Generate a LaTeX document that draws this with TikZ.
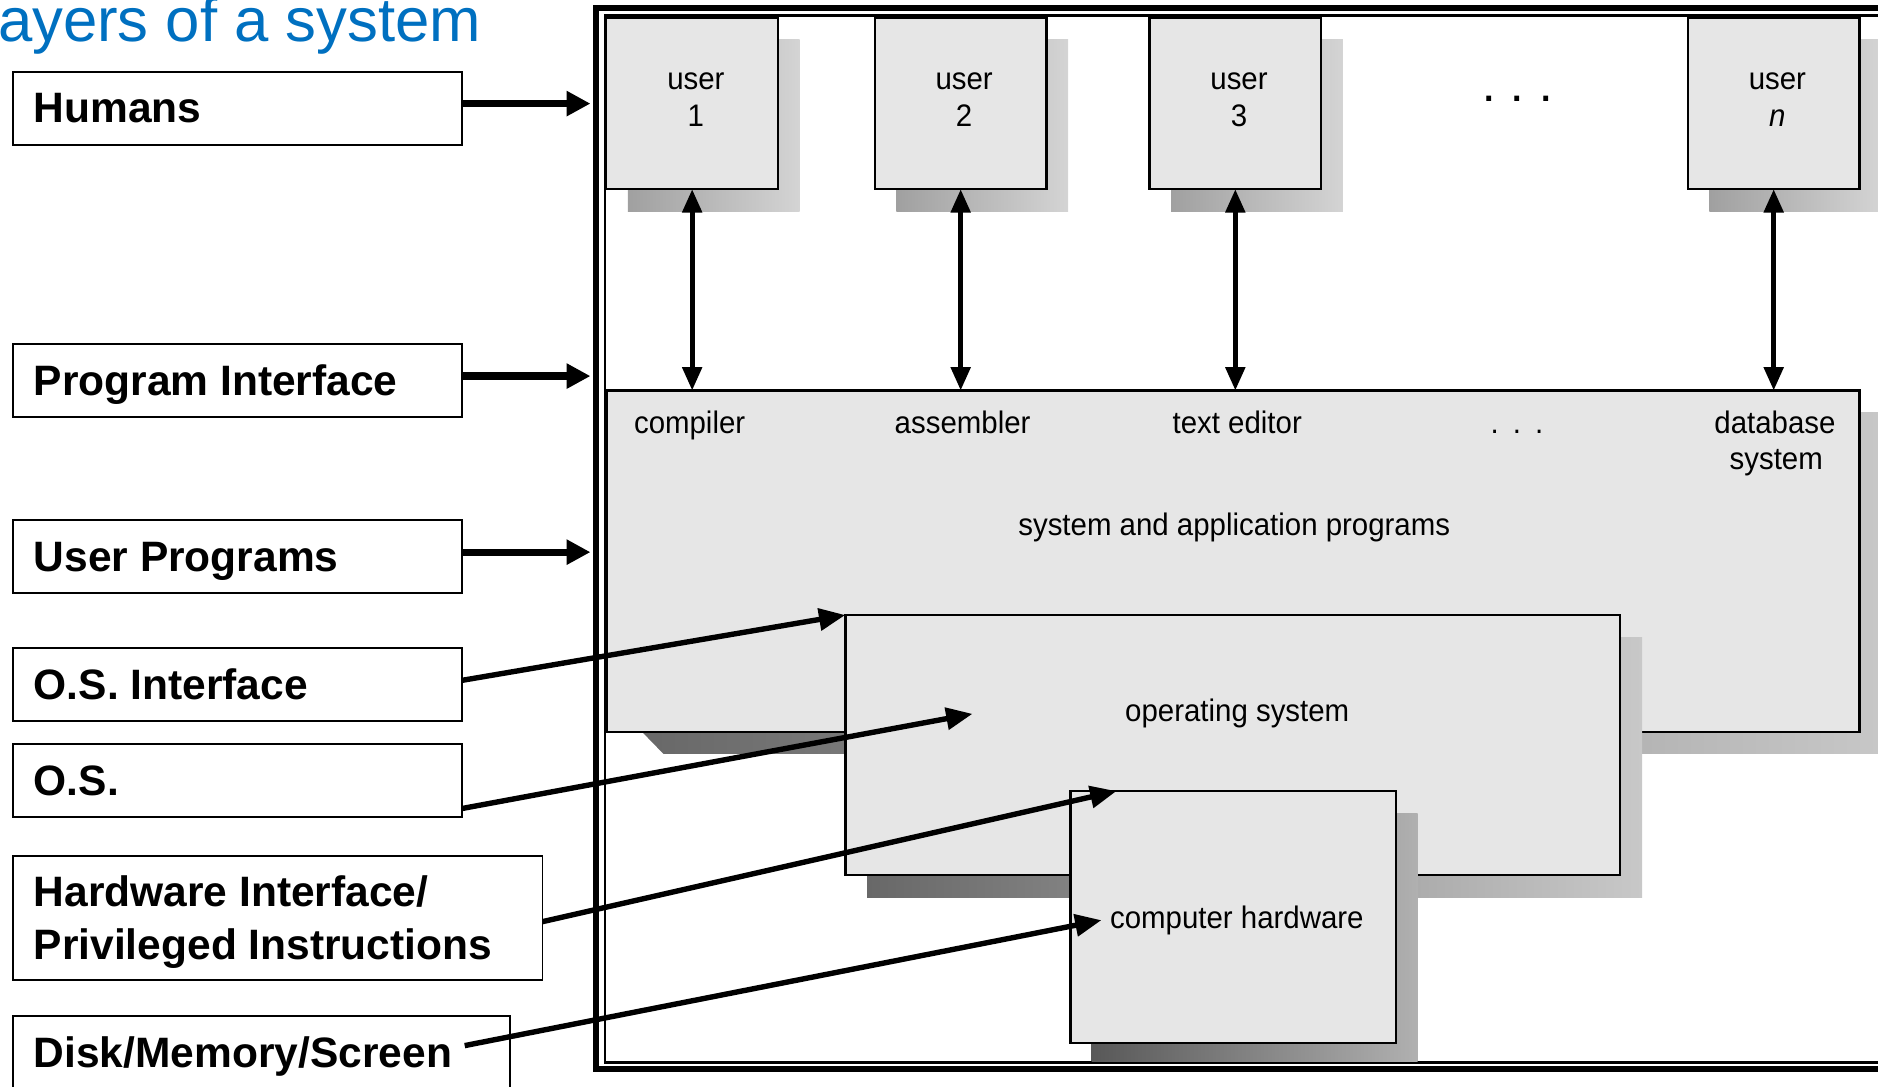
\documentclass[tikz,border=0pt]{standalone}
\usepackage{fontspec}
\setmainfont{Liberation Sans}
\newfontfamily\figfont[FakeStretch=0.945]{Liberation Sans}
\usetikzlibrary{arrows.meta,calc}
\definecolor{boxfill}{RGB}{230,230,230}
\definecolor{titleblue}{RGB}{0,112,192}
\definecolor{shUa}{RGB}{160,160,160}
\definecolor{shUb}{RGB}{212,212,212}
\definecolor{shBa}{RGB}{104,104,104}
\definecolor{shBb}{RGB}{200,200,200}
\definecolor{shHa}{RGB}{88,88,88}
\definecolor{shHb}{RGB}{176,176,176}
\tikzset{
  lblbox/.style={draw, line width=1.5pt, fill=white, inner sep=0pt, outer sep=0pt},
  lbltxt/.style={anchor=base west, inner sep=0pt, font=\fontsize{35.5}{42}\selectfont\bfseries},
  figbox/.style={draw, line width=2pt, fill=boxfill, inner sep=0pt, outer sep=0pt},
  figtxt/.style={anchor=base, inner sep=0pt, font=\figfont\fontsize{26}{31}\selectfont},
  harrow/.style={line width=6pt, -{Triangle[length=20pt,width=20pt]}},
  varrow/.style={line width=4pt, {Triangle[length=19.5pt,width=16pt]}-{Triangle[length=19.5pt,width=16pt]}},
  darrow/.style={line width=4.5pt, -{Triangle[length=22pt,width=18pt]}},
}
\begin{document}
\begin{tikzpicture}[x=1pt,y=-1pt]
\useasboundingbox (0,0) rectangle (1568,907);
\clip (0,0) rectangle (1568,907);

% title
\node[anchor=base west, inner sep=0pt, text=titleblue, font=\fontsize{51.5}{60}\selectfont] (title) at (-30.5,34.5) {Layers of a system};

% frame
\draw[line width=5pt] (498,7) rectangle (1640,892.5);
\draw[line width=2pt] (505,13) rectangle (1640,887);

% user shadows
\shade[left color=shUa, right color=shUb] (524.2,33) rectangle (667.6,176.5);
\shade[left color=shUa, right color=shUb] (748.4,33) rectangle (891.8,176.5);
\shade[left color=shUa, right color=shUb] (977.7,33) rectangle (1121.1,176.5);
\shade[left color=shUa, right color=shUb] (1427.2,33) rectangle (1570.6,176.5);

% user boxes
\node[figbox, minimum width=143.5pt, minimum height=143.5pt] (u1) at (577.9,86.25) {};
\node[figbox, minimum width=143.5pt, minimum height=143.5pt] (u2) at (802.1,86.25) {};
\node[figbox, minimum width=143.5pt, minimum height=143.5pt] (u3) at (1031.4,86.25) {};
\node[figbox, minimum width=143.5pt, minimum height=143.5pt] (un) at (1480.9,86.25) {};

% programs layer
\shade[left color=shBa, right color=shBb] (536,344) -- (536,611) -- (554,629.5) -- (1580,629.5) -- (1580,344) -- cycle;
\node[figbox, minimum width=1046pt, minimum height=285pt] (apps) at (1029.6,468.5) {};

% operating system layer
\shade[left color=shBa, right color=shBb] (724,532) rectangle (1371,749);
\node[figbox, minimum width=647pt, minimum height=217pt] (osb) at (1029.3,622) {};

% hardware layer
\shade[left color=shHa, right color=shHb] (911.5,679) rectangle (1183.5,886);
\node[figbox, minimum width=271.7pt, minimum height=210.5pt] (hwb) at (1029.55,765.75) {};

% texts inside the figure
\node[figtxt] (u1a) at (581,74.6) {user};
\node[figtxt] (u1b) at (581,105.8) {1};
\node[figtxt] (u2a) at (805,74.6) {user};
\node[figtxt] (u2b) at (805,105.8) {2};
\node[figtxt] (u3a) at (1034.5,74.6) {user};
\node[figtxt] (u3b) at (1034.5,105.8) {3};
\node[figtxt] (una) at (1484,74.6) {user};
\node[figtxt] (unb) at (1484,105.8) {\itshape n};
\node[figtxt, font=\figfont\fontsize{30}{36}\selectfont\bfseries] (dtop) at (1267,85) {.\hspace{16pt}.\hspace{16pt}.};

\node[figtxt] (comp) at (575.8,361.8) {compiler};
\node[figtxt] (asm) at (803.7,361.8) {assembler};
\node[figtxt] (ted) at (1033,361.8) {text editor};
\node[figtxt] (dmid) at (1266.5,361.8) {.\hspace{11.8pt}.\hspace{11.8pt}.};
\node[figtxt] (dba) at (1482,361.8) {database};
\node[figtxt] (dbb) at (1483,392.4) {system};
\node[figtxt] (sap) at (1030.5,446.7) {system and application programs};
\node[figtxt] (ost) at (1033,602.5) {operating system};
\node[figtxt] (chT) at (1032.7,775) {computer hardware};

% vertical double arrows
\draw[varrow] (u1.south) -- (u1.south |- apps.north);
\draw[varrow] (u2.south) -- (u2.south |- apps.north);
\draw[varrow] (u3.south) -- (u3.south |- apps.north);
\draw[varrow] (un.south) -- (un.south |- apps.north);

% label boxes
\node[lblbox, minimum width=375pt, minimum height=61pt] (hum) at (198.5,90.5) {};
\node[lblbox, minimum width=375pt, minimum height=61pt] (prog) at (198.5,317.5) {};
\node[lblbox, minimum width=375pt, minimum height=61pt] (uprog) at (198.5,464.5) {};
\node[lblbox, minimum width=375pt, minimum height=61pt] (osi) at (198.5,571.5) {};
\node[lblbox, minimum width=375pt, minimum height=61pt] (osl) at (198.5,651.5) {};
\node[lblbox, minimum width=442pt, minimum height=103pt] (hwl) at (232,766.5) {};
\node[lblbox, minimum width=415pt, minimum height=84pt] (disk) at (218.5,890) {};

\node[lbltxt] (humT) at (28,102.5) {Humans};
\node[lbltxt] (progT) at (28,330) {Program Interface};
\node[lbltxt] (uprogT) at (28,477) {User Programs};
\node[lbltxt] (osiT) at (28,584) {O.S. Interface};
\node[lbltxt] (oslT) at (28,664) {O.S.};
\node[lbltxt] (hwlT1) at (28,757) {Hardware Interface/};
\node[lbltxt] (hwlT2) at (28,801) {Privileged Instructions};
\node[lbltxt] (diskT) at (28,891) {Disk/Memory/Screen};

% horizontal arrows
\coordinate (humTip) at (493,86.5);
\coordinate (progTip) at (493,314);
\coordinate (uprogTip) at (493,461);
\draw[harrow] (hum.east |- humTip) -- (humTip);
\draw[harrow] (prog.east |- progTip) -- (progTip);
\draw[harrow] (uprog.east |- uprogTip) -- (uprogTip);

% diagonal arrows
\coordinate (osTip) at (812,596);
\coordinate (diskStart) at (388,873);
\draw[darrow] ([yshift=3.5pt]osi.east) -- (osb.north west);
\draw[darrow] ([yshift=-23.5pt]osl.east) -- (osTip);
\draw[darrow] ([yshift=-3pt]hwl.east) -- ([xshift=38.5pt]hwb.north west);
\draw[darrow] (diskStart) -- ([xshift=-7pt]chT.west);
\end{tikzpicture}
\end{document}
